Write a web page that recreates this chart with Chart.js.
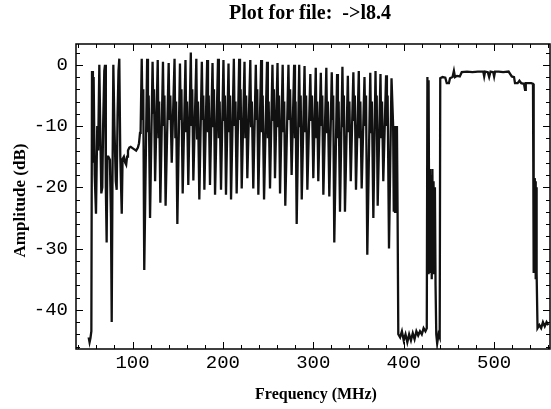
<!DOCTYPE html>
<html>
<head>
<meta charset="utf-8">
<script src="https://cdn.jsdelivr.net/npm/chart.js@4/dist/chart.umd.min.js"></script>
<style>
  html, body { margin: 0; padding: 0; background: #fff; }
  canvas { display: block; }
</style>
</head>
<body>
<canvas id="spectrum" width="551" height="409"></canvas>
<script>
// Spectrum sweep, amplitude in dB against frequency in MHz

const plotTitle = 'Plot for file:  ->l8.4';
const xTitle = 'Frequency (MHz)';
const yTitle = 'Amplitude (dB)';

const xTickLabels = [100, 200, 300, 400, 500];
const yTickLabels = [0, -10, -20, -30, -40];

// low VHF channels and the FM band
const lowMHz = [51.5, 52.5, 53.5, 54.5, 55.2, 56.2, 57, 58.2, 59.6, 61, 62, 63.3, 64.5, 65.5, 66.6, 67.5, 68.8, 69.6,
  70.5, 71.4, 72.2, 73.3, 75, 76.2, 77, 77.8, 78.8, 80, 81.5, 82.5, 83.5, 84.5, 85.4, 86.5, 88.1, 89, 90.5, 92, 93,
  94, 95, 96.5, 98, 100, 102, 104, 106, 107.2, 108.3, 109];
const lowDb = [-44.5, -45.3, -44.6, -43.5, -1, -16, -2, -18, -24.3, -10, -14, 0, -12, -21, -20, -10, -1, 0,
  -20, -29, -15, -15, -15.5, -25, -42, -20, 0, -10, -19, -20.4, -8, -1, 1, -15, -24.3, -15.4, -15, -16, -16.3,
  -15, -14, -13.5, -13.4, -13.6, -13.8, -14, -13.5, -12.8, -11.1, -10.5];

// cable channels, 6 MHz apart: carrier peak, two shoulder points, dip
const cableMHz = [
  110.2, 111.1, 111.9, 113,     116.2, 117.1, 117.9, 119.4,   122.2, 123.1, 123.8, 125,
  127.9, 128.8, 129.5, 130.8,   133.7, 134.6, 135.3, 136.6,   140, 140.9, 141.8, 143.4,
  146.5, 147.4, 148.2, 149.6,   152.5, 153.4, 154.1, 155.5,   158.6, 159.5, 160.3, 161.7,
  164.5, 165.4, 166.1, 167.3,   170.6, 171.5, 172.4, 173.9,   176.7, 177.6, 178.3, 179.5,
  182.6, 183.5, 184.3, 185.7,   188.5, 189.4, 190.1, 191.3,   194.6, 195.5, 196.4, 197.9,
  200.6, 201.5, 202.2, 203.4,   206.2, 207.1, 207.9, 209,     212.1, 213, 213.9, 215.2,
  218, 218.9, 219.6, 220.8,     223.9, 224.8, 225.7, 227,     230.3, 231.2, 232, 233.6,
  236.4, 237.3, 238, 239.2,     242.3, 243.2, 244, 245.5,     248.8, 249.7, 250.6, 252.1,
  254.8, 255.7, 256.4, 257.6,   260.4, 261.3, 262, 263.2,     266.1, 267, 267.8, 269,
  272.5, 273.4, 274.3, 276,     278.8, 279.7, 280.4, 281.6,   284.4, 285.3, 286, 287.2,
  290.3, 291.2, 292, 293.4,     296.7, 297.6, 298.5, 300,     302.7, 303.6, 304.3, 305.5,
  308.3, 309.2, 309.9, 311.1,   314.4, 315.3, 316.1, 317.7,   320.4, 321.3, 322, 323.2,
  326.3, 327.2, 328, 329.5,     332.2, 333.1, 333.8, 335,     338.2, 339.1, 339.9, 341.4,
  344.3, 345.2, 345.9, 347.2,   350.3, 351.2, 352, 353.5,     356.6, 357.5, 358.3, 359.7,
  363, 363.9, 364.8, 366.4,     368.8, 369.5, 370.1, 371.2,   374.3, 375.2, 376, 377.4,
  380.5, 381.4, 382.2, 383.7,
  386.5, 388.3, 389, 389.7, 390.4, 391.1, 391.8, 392.5, 393.2];
const cableDb = [
  1, -9, -4, -33.5,             1, -11, -5, -25,              0.5, -8, -4, -19,
  0.8, -12, -6, -22.5,          0.5, -10, -5, -23,            0.3, -9, -5, -16,
  1, -12, -6, -26,              0.2, -9, -4, -21,             0.8, -11, -6, -19.6,
  2, -10, -4, -18.9,            1, -12, -6, -22,              0.5, -9, -5, -20.4,
  0.8, -11, -5, -19.6,          0.3, -10, -4, -21.2,          1, -12, -6, -20.4,
  0.8, -9, -5, -21.2,           0.2, -11, -5, -22,            1, -10, -6, -21,
  1, -9, -4, -20.2,             0.5, -12, -5, -18.5,          0.8, -10, -6, -20.2,
  0, -9, -4, -21.2,             0.8, -11, -5, -22,            0.5, -12, -6, -20.2,
  0, -9, -4, -18.5,             0.3, -10, -5, -21,            0, -11, -6, -23,
  0, -9, -4, -18,               0, -12, -6, -26,              0, -10, -5, -22,
  -0.2, -11, -5, -20.4,         -1.5, -9, -5, -18.5,          -0.5, -12, -6, -19,
  -1.3, -10, -5, -21.2,         -0.5, -11, -6, -21.5,         -1.2, -9, -5, -29,
  -1.5, -12, -6, -24,           -0.3, -10, -5, -24,           -1.8, -11, -6, -19,
  -1.2, -9, -5, -20.4,          -1, -12, -6, -20.2,           -2, -10, -5, -31,
  -1.3, -11, -6, -25,           -1, -9, -5, -23,              -1.5, -12, -6, -19,
  -1.7, -10, -5, -30,
  -2.2, -10, -24, -10.5, -24, -10, -23, -10, -24];

// empty stretch and the lone carrier near 430 MHz
const gapMHz = [394, 396, 398, 400, 402, 404, 406, 408, 410, 412, 414, 416, 418, 420, 422, 424, 425.5,
  426.2, 427, 427.5, 428.3, 429, 429.7, 430.4, 431, 431.7, 432.4, 433, 433.7, 434.5, 435.2, 436, 437, 438.5, 439.8];
const gapDb = [-44, -44.5, -43.5, -45, -44, -45.3, -44, -45, -43.8, -44.8, -43.5, -44.2, -43.5, -44, -43, -43.5, -43,
  -2, -34, -2.5, -33, -17, -34, -18, -35, -17, -34, -19, -33, -20, -36, -44, -45.5, -44, -44.5];

// flat data block and the tail
const blockMHz = [440.4, 443, 446, 447.6, 450, 451.2, 454, 455.5, 456.7, 459, 462, 464.2, 470, 476, 482, 488, 489,
  490, 493, 494.5, 496, 499, 500, 501, 505, 510, 516, 519.5, 522, 523.1, 526, 528, 530, 533, 534.2, 535, 538,
  541, 543, 543.5, 544, 544.5, 545, 545.5, 546, 546.5, 547, 548, 550, 552, 554, 556, 558, 560];
const blockDb = [-2.2, -2, -2.1, -3, -3, -2.2, -2, -1, -2, -1.8, -1.9, -1.2, -1.1, -1.2, -1.1, -1.1, -1.9,
  -1.1, -1.2, -2, -1.1, -1.2, -1.9, -1.1, -1.1, -1.2, -1.1, -1.9, -2, -3, -3, -2.6, -3, -3.1, -4.1, -3, -3,
  -3, -3.1, -18, -34, -18.5, -33, -19, -35, -20, -34, -43, -42.5, -43, -42, -42.7, -42, -42.5];

const freqs = [...lowMHz, ...cableMHz, ...gapMHz, ...blockMHz];
const amps = [...lowDb, ...cableDb, ...gapDb, ...blockDb];
const points = freqs.map((f, i) => ({ x: f, y: amps[i] }));

// minor tick values for the frame
const xMinor = [];
for (let v = 40; v <= 560; v += 20) xMinor.push(v);
const yMinor = [];
for (let v = 2; v >= -46; v -= 2) yMinor.push(v);

// boxed frame with inward ticks on all four sides
const framePlugin = {
  id: 'frame',
  afterDatasetsDraw(chart) {
    const { ctx, chartArea: a, scales: { x, y } } = chart;
    ctx.save();
    ctx.strokeStyle = '#000';
    ctx.lineWidth = 1.5;
    ctx.strokeRect(a.left, a.top, a.right - a.left, a.bottom - a.top);
    ctx.lineWidth = 1;
    ctx.beginPath();
    xMinor.forEach(v => {
      const px = Math.round(x.getPixelForValue(v)) + 0.5;
      const len = xTickLabels.includes(v) ? 7 : 4;
      ctx.moveTo(px, a.bottom); ctx.lineTo(px, a.bottom - len);
      ctx.moveTo(px, a.top); ctx.lineTo(px, a.top + len);
    });
    yMinor.forEach(v => {
      const py = Math.round(y.getPixelForValue(v)) + 0.5;
      const len = yTickLabels.includes(v) ? 7 : 4;
      ctx.moveTo(a.left, py); ctx.lineTo(a.left + len, py);
      ctx.moveTo(a.right, py); ctx.lineTo(a.right - len, py);
    });
    ctx.stroke();
    ctx.restore();
  }
};

// plot title and axis titles
const titlePlugin = {
  id: 'titles',
  afterDraw(chart) {
    const { ctx, chartArea: a } = chart;
    const mid = (a.left + a.right) / 2 - 3;
    ctx.save();
    ctx.fillStyle = '#000';
    ctx.textAlign = 'center';
    ctx.textBaseline = 'middle';
    ctx.font = 'bold 20px "Liberation Serif"';
    ctx.fillText(plotTitle, mid, 14);
    ctx.font = 'bold 16px "Liberation Serif"';
    ctx.fillText(xTitle, mid + 6, 395);
    ctx.translate(21, (a.top + a.bottom) / 2 + 4);
    ctx.rotate(-Math.PI / 2);
    ctx.font = 'bold 17px "Liberation Serif"';
    ctx.fillText(yTitle, 0, 0);
    ctx.restore();
  }
};

const tickFont = { family: '"Liberation Mono", "DejaVu Sans Mono", monospace', size: 19 };

new Chart(document.getElementById('spectrum'), {
  type: 'line',
  data: {
    datasets: [{
      data: points,
      borderColor: '#111',
      borderWidth: 2.3,
      pointRadius: 0,
      tension: 0,
      fill: false
    }]
  },
  options: {
    responsive: false,
    animation: false,
    devicePixelRatio: 1,
    layout: { padding: { top: 44, right: 1, left: 0, bottom: 0 } },
    plugins: {
      legend: { display: false },
      tooltip: { enabled: false },
      title: { display: false }
    },
    scales: {
      x: {
        type: 'linear',
        min: 37.5,
        max: 561.8,
        grid: { display: false, drawTicks: false },
        border: { display: false },
        afterBuildTicks: s => { s.ticks = xTickLabels.map(v => ({ value: v })); },
        afterFit: s => { s.height = 60; },
        ticks: { color: '#000', font: tickFont, padding: 3, maxRotation: 0 }
      },
      y: {
        type: 'linear',
        min: -46.4,
        max: 3.4,
        grid: { display: false, drawTicks: false },
        border: { display: false },
        afterBuildTicks: s => { s.ticks = yTickLabels.map(v => ({ value: v })); },
        afterFit: s => { s.width = 76; },
        ticks: { color: '#000', font: tickFont, padding: 8 }
      }
    }
  },
  plugins: [framePlugin, titlePlugin]
});
</script>
</body>
</html>
